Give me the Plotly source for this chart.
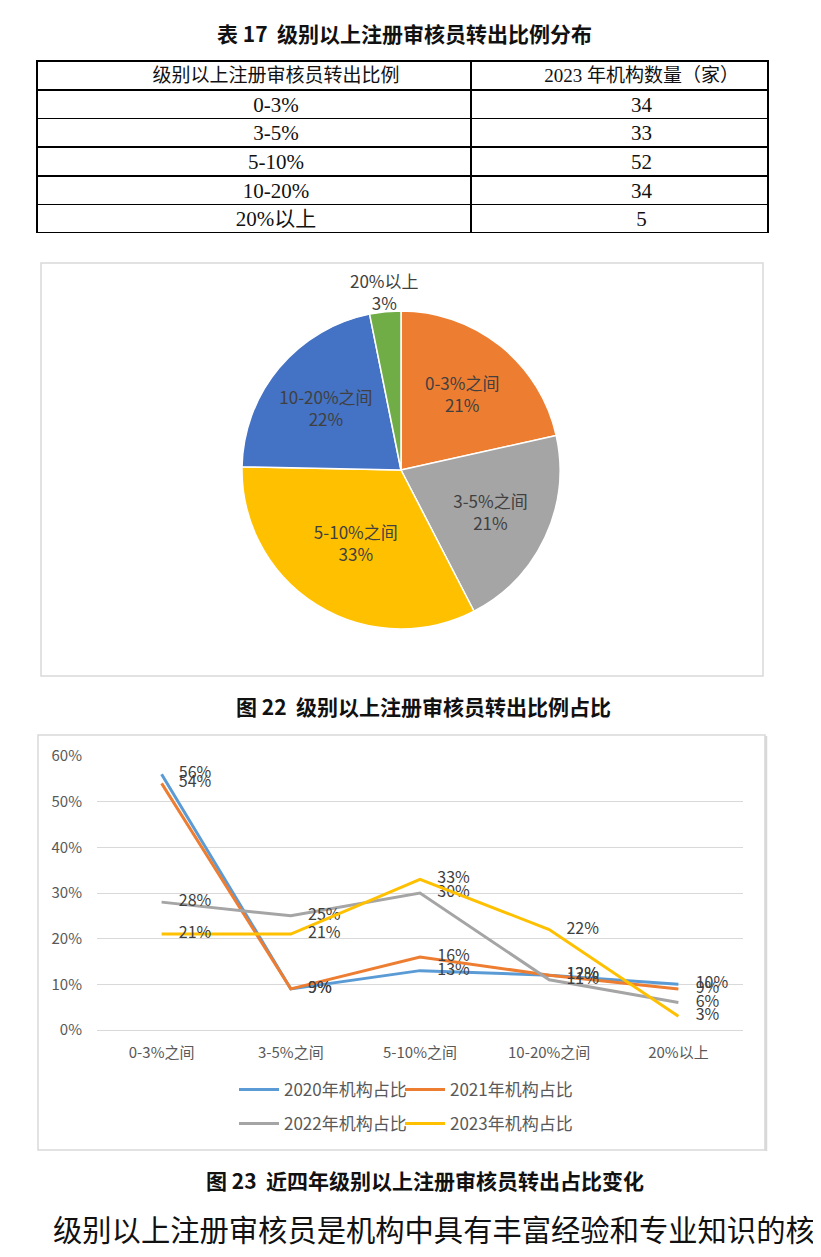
import plotly.graph_objects as go

W, H = 821, 1257

# ---------------- data ----------------
table_headers = ["级别以上注册审核员转出比例", "2023 年机构数量（家）"]
table_ranges = ["0-3%", "3-5%", "5-10%", "10-20%", "20%以上"]
table_counts = [34, 33, 52, 34, 5]

pie_labels = ["0-3%之间", "3-5%之间", "5-10%之间", "10-20%之间", "20%以上"]
pie_counts = [34, 33, 52, 34, 5]
pie_pct_text = ["21%", "21%", "33%", "22%", "3%"]
pie_colors = ["#ED7D31", "#A5A5A5", "#FFC000", "#4472C4", "#70AD47"]

line_categories = ["0-3%之间", "3-5%之间", "5-10%之间", "10-20%之间", "20%以上"]
series_names = ["2020年机构占比", "2021年机构占比", "2022年机构占比", "2023年机构占比"]
share_2020 = [56, 9, 13, 12, 10]
share_2021 = [54, 9, 16, 12, 9]
share_2022 = [28, 25, 30, 11, 6]
share_2023 = [21, 21, 33, 22, 3]
series_values = [share_2020, share_2021, share_2022, share_2023]
series_colors = ["#5B9BD5", "#ED7D31", "#A5A5A5", "#FFC000"]
y_ticks = [0, 10, 20, 30, 40, 50, 60]

title_table = "<b>表 17  级别以上注册审核员转出比例分布</b>"
title_pie = "<b>图 22  级别以上注册审核员转出比例占比</b>"
title_line = "<b>图 23  近四年级别以上注册审核员转出占比变化</b>"
body_text = "级别以上注册审核员是机构中具有丰富经验和专业知识的核"

CJK = "Noto Sans CJK SC"
SERIF = "Liberation Serif, Noto Sans CJK SC"

# the page body has an 8px margin; layout positions are given in screen pixels
OX, OY = 8, 8


def px(x):
    return (x - OX) / W


def py(y):
    return 1 - (y - OY) / H


fig = go.Figure()

# ---------------- table ----------------
TBL_L, TBL_R, TBL_T, TBL_B = 37, 768, 61, 234
COLW = [434, 297]
HDR_H, ROW_H = 29, 28.6

# grid of the table (cell borders)
fig.add_trace(go.Table(
    domain=dict(x=[px(TBL_L), px(TBL_R)], y=[py(TBL_B), py(TBL_T)]),
    columnwidth=COLW,
    header=dict(
        values=["", ""],
        fill_color="white",
        line=dict(color="black", width=1.5),
        height=HDR_H,
    ),
    cells=dict(
        values=[[""] * len(table_ranges), [""] * len(table_counts)],
        fill_color="white",
        line=dict(color="black", width=1.5),
        height=ROW_H,
    ),
))

# table text (indented like the source document)
IND = 22
fig.add_trace(go.Table(
    domain=dict(x=[px(TBL_L + IND), px(TBL_R + IND)], y=[py(TBL_B - 2), py(TBL_T - 1)]),
    columnwidth=COLW,
    header=dict(
        values=table_headers,
        align="center",
        fill_color="rgba(0,0,0,0)",
        line=dict(color="rgba(0,0,0,0)", width=0),
        font=dict(family=SERIF, size=19, color="#111111"),
        height=HDR_H - 1,
    ),
    cells=dict(
        values=[table_ranges, table_counts],
        align="center",
        fill_color="rgba(0,0,0,0)",
        line=dict(color="rgba(0,0,0,0)", width=0),
        font=dict(family=SERIF, size=21, color="#111111"),
        height=ROW_H,
    ),
))

# ---------------- pie ----------------
cx, cy, r = 401, 470, 159
fig.add_trace(go.Pie(
    labels=pie_labels,
    values=pie_counts,
    text=pie_pct_text,
    texttemplate="%{label}<br>%{text}",
    textposition=["inside", "inside", "inside", "inside", "none"],
    insidetextorientation="horizontal",
    marker=dict(colors=pie_colors, line=dict(color="white", width=1.5)),
    sort=False,
    direction="clockwise",
    rotation=0,
    textfont=dict(family=CJK, size=17, color="#404040"),
    showlegend=False,
    hoverinfo="skip",
    domain=dict(x=[px(cx - r), px(cx + r)], y=[py(cy + r), py(cy - r)]),
))

# ---------------- lines ----------------
legend_ids = ["legend", "legend2", "legend3", "legend4"]
for name, vals, col, lid in zip(series_names, series_values, series_colors, legend_ids):
    fig.add_trace(go.Scatter(
        x=line_categories,
        y=vals,
        name=name,
        mode="lines+markers+text",
        line=dict(color=col, width=3),
        marker=dict(size=26, color="rgba(0,0,0,0)", line=dict(width=0)),
        text=[f"{v}%" for v in vals],
        textposition="middle right",
        textfont=dict(family=CJK, size=16, color="#404040"),
        legend=lid,
        hoverinfo="skip",
    ))

legend_common = dict(
    orientation="h", xanchor="left", yanchor="middle", itemwidth=40,
    font=dict(family=CJK, size=17, color="#595959"),
    bgcolor="rgba(0,0,0,0)", itemclick=False, itemdoubleclick=False,
)
legend_x = [234, 400, 234, 400]
legend_y = [1090, 1090, 1124, 1124]
legend_layout = {
    lid: dict(x=px(lx), y=py(ly), **legend_common)
    for lid, lx, ly in zip(legend_ids, legend_x, legend_y)
}

fig.update_layout(
    width=W, height=H,
    margin=dict(l=0, r=0, t=0, b=0, autoexpand=False),
    paper_bgcolor="white",
    plot_bgcolor="white",
    font=dict(family=CJK, color="#595959"),
    xaxis=dict(
        domain=[px(97), px(743)],
        type="category",
        range=[-0.5, 4.5],
        automargin=False,
        showgrid=False,
        showline=False,
        zeroline=False,
        ticks="",
        tickfont=dict(family=CJK, size=15, color="#595959"),
        ticklabelstandoff=12,
        fixedrange=True,
    ),
    yaxis=dict(
        domain=[py(1030), py(756)],
        range=[0, 60],
        automargin=False,
        tickvals=y_ticks,
        ticktext=[f"{v}%" for v in y_ticks],
        showgrid=True,
        gridcolor="#D9D9D9",
        gridwidth=1,
        zeroline=True,
        zerolinecolor="#D9D9D9",
        zerolinewidth=1,
        showline=False,
        ticks="",
        tickfont=dict(family=CJK, size=15, color="#595959"),
        ticklabelstandoff=14,
        fixedrange=True,
    ),
    shapes=[
        dict(type="rect", xref="paper", yref="paper", x0=px(41), x1=px(763), y0=py(676), y1=py(263),
             line=dict(color="#D9D9D9", width=1.5), layer="below"),
        dict(type="rect", xref="paper", yref="paper", x0=px(38), x1=px(765), y0=py(1150), y1=py(735),
             line=dict(color="#D9D9D9", width=1.5), layer="below"),
        dict(type="line", xref="paper", yref="paper", x0=px(766), x1=px(766), y0=py(1151), y1=py(736),
             line=dict(color="#D9D9D9", width=2.5), layer="below"),
    ],
    annotations=[
        dict(text=title_table, x=px(404), y=py(33), xref="paper", yref="paper",
             showarrow=False, xanchor="center", yanchor="middle",
             font=dict(family=CJK, size=21, color="#111111")),
        dict(text=f"{pie_labels[4]}<br>{pie_pct_text[4]}", x=px(384), y=py(291),
             xref="paper", yref="paper", showarrow=False, xanchor="center", yanchor="middle",
             font=dict(family=CJK, size=17, color="#404040")),
        dict(text=title_pie, x=px(424), y=py(706), xref="paper", yref="paper",
             showarrow=False, xanchor="center", yanchor="middle",
             font=dict(family=CJK, size=21, color="#111111")),
        dict(text=title_line, x=px(425), y=py(1180), xref="paper", yref="paper",
             showarrow=False, xanchor="center", yanchor="middle",
             font=dict(family=CJK, size=21, color="#111111")),
        dict(text=body_text, x=px(51), y=py(1228), xref="paper", yref="paper",
             showarrow=False, xanchor="left", yanchor="middle",
             font=dict(family=CJK, size=29.3, color="#111111")),
    ],
    **legend_layout,
)

fig.write_html("out.html")
